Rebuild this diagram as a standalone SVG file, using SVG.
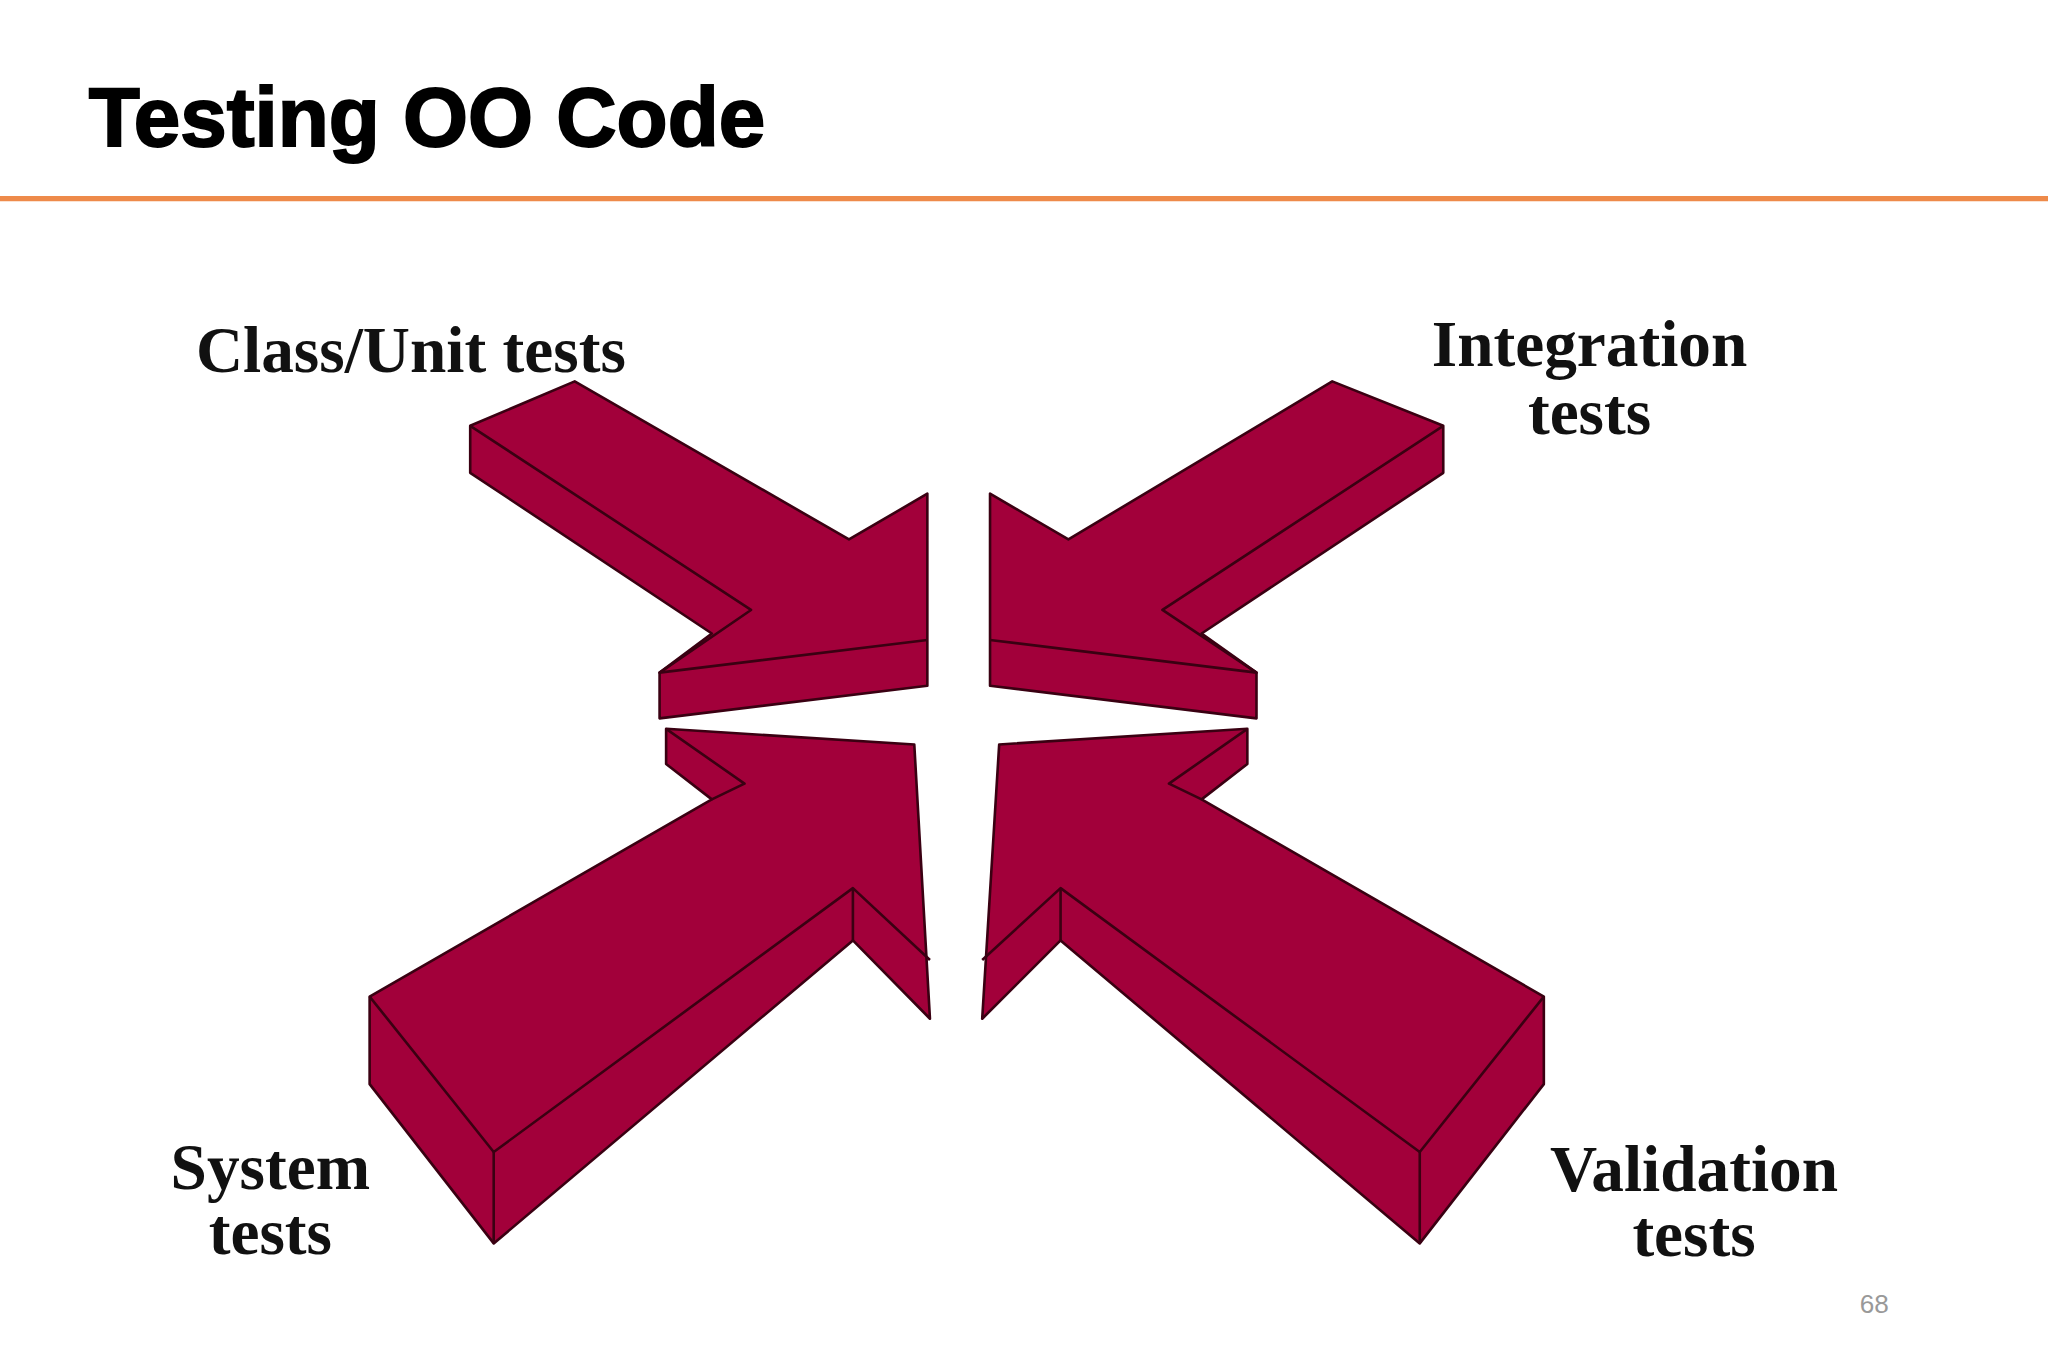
<svg xmlns="http://www.w3.org/2000/svg" width="2048" height="1365" viewBox="0 0 2048 1365">
<style>
.a{fill:#a2003a;stroke:#3a0012;stroke-width:2;stroke-linejoin:round}
.e{fill:none;stroke:#3a0012;stroke-width:2;stroke-linejoin:round}
.l{font-family:"Liberation Serif",serif;font-weight:bold;font-size:50px;fill:#111}
</style>
<rect width="2048" height="1365" fill="#fff"/>
<g transform="scale(1.30612)">
<g id="title"><text x="68" y="112" font-family="Liberation Sans,Arial,sans-serif" font-weight="900" font-size="64" fill="#000" stroke="#000" stroke-width="1.5">Testing OO Code</text>
<line x1="0" y1="152" x2="1568" y2="152" stroke="#ee8a4a" stroke-width="4"/></g>
<g id="connectors">
<g id="arrow-tl"><polygon class="a" points="360,326 440,292 650,413 710,378 710,525 505,550 505,515 545,485 360,362"/>
<polyline class="e" points="360,326 575,467 505,515 710,490"/></g>
<g id="arrow-tr"><polygon class="a" points="1105,326 1020,292 818,413 758,378 758,525 962,550 962,515 920,485 1105,362"/>
<polyline class="e" points="1105,326 890,467 962,515 758,490"/></g>
<g id="arrow-bl"><polygon class="a" points="510,558 700,570 712,780 653,720 378,952 283,830 283,763 545,612 510,585"/>
<polyline class="e" points="510,558 570,600 545,612"/>
<polyline class="e" points="283,763 378,882 653,680 712,735"/>
<line class="e" x1="378" y1="882" x2="378" y2="952"/><line class="e" x1="653" y1="680" x2="653" y2="720"/></g>
<g id="arrow-br"><polygon class="a" points="955,558 765,570 752,780 812,720 1087,952 1182,830 1182,763 920,612 955,585"/>
<polyline class="e" points="955,558 895,600 920,612"/>
<polyline class="e" points="1182,763 1087,882 812,680 752,735"/>
<line class="e" x1="1087" y1="882" x2="1087" y2="952"/><line class="e" x1="812" y1="680" x2="812" y2="720"/></g>
</g>
<g id="class-unit"><text class="l" x="150" y="285">Class/Unit tests</text></g>
<g id="integration"><text class="l" x="1217" y="280" text-anchor="middle">Integration</text><text class="l" x="1217" y="332" text-anchor="middle">tests</text></g>
<g id="system"><text class="l" x="207" y="910" text-anchor="middle">System</text><text class="l" x="207" y="960" text-anchor="middle">tests</text></g>
<g id="validation"><text class="l" x="1297" y="912" text-anchor="middle">Validation</text><text class="l" x="1297" y="962" text-anchor="middle">tests</text></g>
<text x="1435" y="1005" text-anchor="middle" font-family="Liberation Sans,sans-serif" font-size="20" fill="#999">68</text>
</g>
</svg>
